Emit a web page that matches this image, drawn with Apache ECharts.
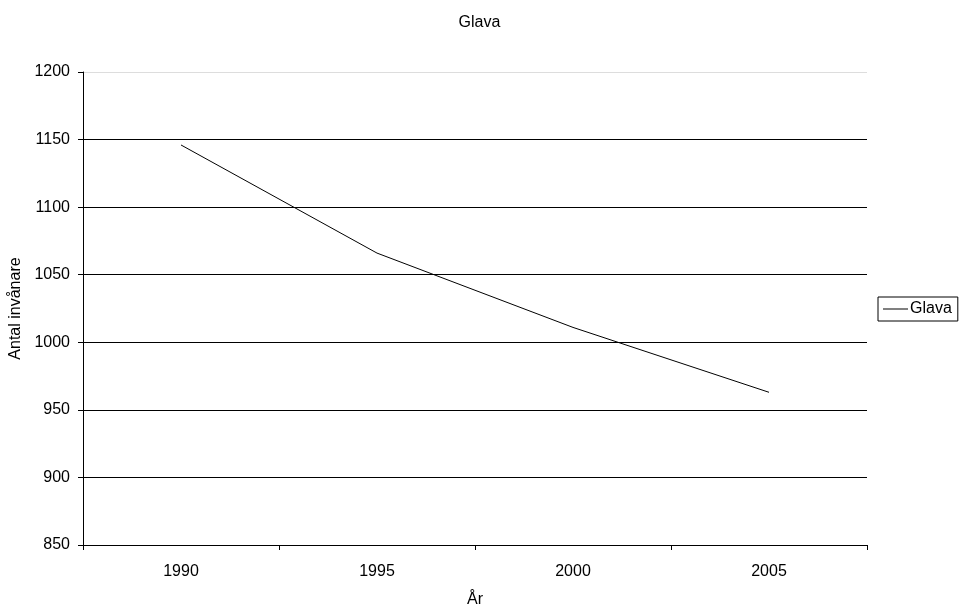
<!DOCTYPE html>
<html>
<head>
<meta charset="utf-8">
<script src="https://cdn.jsdelivr.net/npm/echarts@6/dist/echarts.min.js"></script>
<style>
html,body{margin:0;padding:0;background:#fff;}
#c{width:959px;height:610px;}
</style>
</head>
<body>
<div id="c"></div>
<script>
const categories = ['1990', '1995', '2000', '2005'];
const glava = [1146, 1066, 1011, 963];
const seriesName = 'Glava';
const titleText = 'Glava';
const yName = 'Antal invånare';
const xName = 'År';

const font = 'Liberation Sans, Arial, sans-serif';
const chart = echarts.init(document.getElementById('c'), null, {renderer: 'canvas'});
chart.setOption({
  animation: false,
  backgroundColor: '#ffffff',
  title: {
    text: titleText, left: 'center', top: 10,
    textStyle: {fontFamily: font, fontSize: 16, fontWeight: 'normal', color: '#000'}
  },
  legend: {
    data: [seriesName],
    left: 878, top: 297,
    orient: 'vertical',
    borderColor: '#000', borderWidth: 1, borderRadius: 0,
    padding: [4, 6, 4, 5],
    itemWidth: 25, itemHeight: 1, itemGap: 4,
    icon: 'rect',
    textStyle: {fontFamily: font, fontSize: 16, color: '#000', padding: [0, 0, 0, -3]},
    itemStyle: {color: '#000'}
  },
  grid: {left: 83, right: 92, top: 72, bottom: 65, containLabel: false, outerBoundsMode: 'none'},
  xAxis: {
    type: 'category',
    data: categories,
    boundaryGap: true,
    name: xName, nameLocation: 'middle', nameGap: 47,
    nameTextStyle: {fontFamily: font, fontSize: 16, color: '#000'},
    axisLine: {lineStyle: {color: '#000', width: 1}},
    axisTick: {show: true, length: 5, lineStyle: {color: '#000'}},
    axisLabel: {fontFamily: font, fontSize: 16, color: '#000', margin: 19},
    splitLine: {show: false}
  },
  yAxis: {
    type: 'value',
    min: 850, max: 1200, interval: 50,
    name: yName, nameLocation: 'middle', nameGap: 54,
    nameTextStyle: {fontFamily: font, fontSize: 16, color: '#000'},
    axisLine: {show: true, lineStyle: {color: '#000', width: 1}},
    axisTick: {show: true, length: 5, lineStyle: {color: '#000'}},
    axisLabel: {fontFamily: font, fontSize: 16, color: '#000', margin: 13, formatter: v => String(v)},
    splitLine: {show: true, lineStyle: {color: ['#000','#000','#000','#000','#000','#000','#000','#dddddd'], width: 1}}
  },
  series: [{
    name: seriesName,
    type: 'line',
    data: glava,
    symbol: 'none',
    lineStyle: {color: '#000', width: 1},
    itemStyle: {color: '#000'}
  }]
});
</script>
</body>
</html>
